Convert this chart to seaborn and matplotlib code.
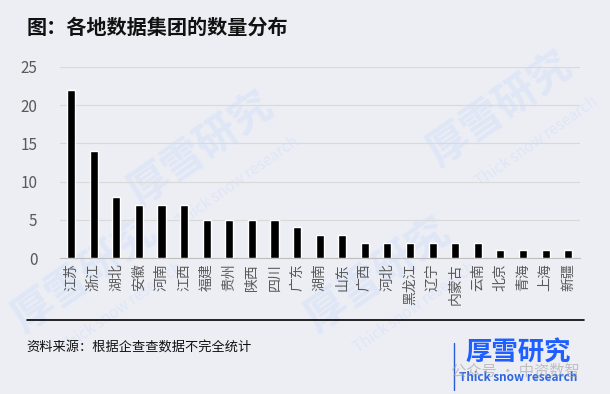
import matplotlib
matplotlib.use('Agg')
import pandas as pd
import seaborn as sns
from matplotlib import pyplot as plt

# data
provinces = ['江苏', '浙江', '湖北', '安徽', '河南', '江西', '福建', '贵州', '陕西', '四川',
             '广东', '湖南', '山东', '广西', '河北', '黑龙江', '辽宁', '内蒙古', '云南',
             '北京', '青海', '上海', '新疆']
counts = [22, 14, 8, 7, 7, 7, 5, 5, 5, 5, 4, 3, 3, 2, 2, 2, 2, 2, 2, 1, 1, 1, 1]
y_ticks = [0, 5, 10, 15, 20, 25]

bg = '#eceef4'
sns.set_style('white')
plt.rcParams['font.family'] = ['Noto Sans CJK SC', 'DejaVu Sans']

df = pd.DataFrame({'province': provinces, 'count': counts})

fig = plt.figure(figsize=(6.1, 3.94), dpi=100, facecolor=bg)
ax = fig.add_axes([0.098, 0.345, 0.852, 0.485])
ax.set_facecolor('none')
ax.set_zorder(2)

# faint watermarks behind everything
for (wx, wy) in [(0.33, 0.62), (0.62, 0.3), (0.82, 0.72), (0.14, 0.3)]:
    fig.text(wx, wy, '厚雪研究', fontsize=30, fontweight='bold', color='#dfe6f6',
             rotation=35, ha='center', va='center', zorder=-5)
    fig.text(wx + 0.06, wy - 0.08, 'Thick snow research', fontsize=11, color='#dfe6f6',
             rotation=35, ha='center', va='center', zorder=-5)

sns.barplot(data=df, x='province', y='count', color='black', width=0.36,
            saturation=1, ax=ax, zorder=3)

ax.set_ylim(0, 25)
ax.set_yticks(y_ticks)
ax.yaxis.grid(True, color='#d9d9d9', linewidth=0.8, zorder=0)
ax.set_axisbelow(True)
for s in ['left', 'right', 'top']:
    ax.spines[s].set_visible(False)
ax.spines['bottom'].set_color('#bfbfbf')
ax.tick_params(axis='y', length=0, pad=16, labelsize=11, labelcolor='#595959')
ax.tick_params(axis='x', length=0, pad=4, labelsize=10, labelcolor='#595959')
plt.setp(ax.get_xticklabels(), rotation=90, ha='center', va='top')
ax.set_xlabel('')
ax.set_ylabel('')

fig.text(0.044, 0.932, '图：各地数据集团的数量分布', fontsize=14.5, fontweight='bold',
         color='#111111', ha='left', va='center')

fig.add_artist(plt.Line2D([0.044, 0.957], [0.188, 0.188], color='black', linewidth=1.2,
                          transform=fig.transFigure))
fig.text(0.044, 0.118, '资料来源：根据企查查数据不完全统计', fontsize=9.5, color='#111111',
         ha='left', va='center')

# logo
fig.add_artist(plt.Line2D([0.745, 0.745], [0.01, 0.13], color='#2a5bd7', linewidth=1,
                          transform=fig.transFigure))
fig.text(0.85, 0.105, '厚雪研究', fontsize=19, fontweight='bold', color='#1f5fff',
         ha='center', va='center')
fig.text(0.85, 0.043, 'Thick snow research', fontsize=8.5, fontweight='bold', color='#2f66e0',
         ha='center', va='center')
fig.text(0.845, 0.058, '公众号 · 中资数智', fontsize=11, color='#a0a0a0', alpha=0.6,
         ha='center', va='center')

fig.savefig('out.png', dpi=100, facecolor=bg)
